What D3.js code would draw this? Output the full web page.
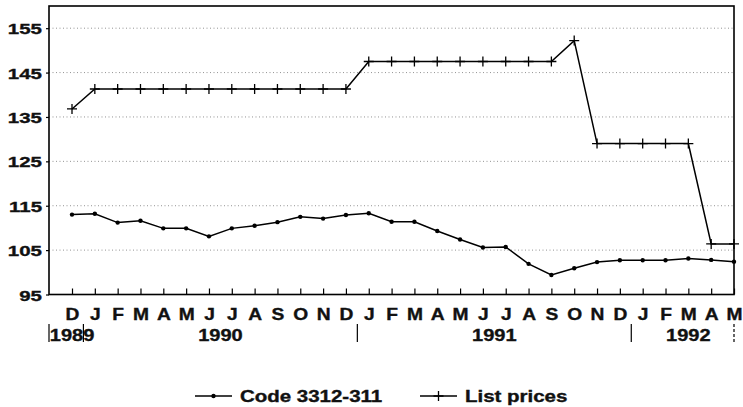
<!DOCTYPE html>
<html><head><meta charset="utf-8">
<script src="https://cdn.jsdelivr.net/npm/d3@7"></script>
<style>
body{margin:0;background:#fff}
svg{display:block}
text{font-family:"Liberation Sans",Arial,Helvetica,sans-serif;font-weight:bold;fill:#111;stroke:#111;stroke-width:0.35px}
</style></head>
<body><svg id="c" width="743" height="407"></svg>
<script>
// ---- data ----
const months = ["D","J","F","M","A","M","J","J","A","S","O","N","D","J","F","M","A","M","J","J","A","S","O","N","D","J","F","M","A","M"];
const codeSeries = [113.0,113.2,111.2,111.6,109.9,109.9,108.1,109.9,110.5,111.3,112.5,112.1,112.9,113.3,111.4,111.4,109.3,107.4,105.6,105.7,101.9,99.4,100.9,102.3,102.7,102.7,102.7,103.1,102.8,102.4];
const listPrices = [136.8,141.3,141.3,141.3,141.3,141.3,141.3,141.3,141.3,141.3,141.3,141.3,141.3,147.5,147.5,147.5,147.5,147.5,147.5,147.5,147.5,147.5,152.2,129.0,129.0,129.0,129.0,129.0,106.4,106.4];
const yTicks = [95,105,115,125,135,145,155];
const yearLabels = ["1989","1990","1991","1992"];
const yearStart = [0,1,13,25];
const yearEnd = [0,12,24,29];
const seriesNames = ["Code 3312-311","List prices"];

// ---- layout ----
const svg = d3.select("#c");
const L = 49, R = 734, T = 6, B = 294.5;
const x = d3.scalePoint().domain(d3.range(months.length)).range([72, 734]);
const y = d3.scaleLinear().domain([95, 160]).range([B, T]);
const SX = "scale(1.25,1)";

// gridlines
svg.append("g").selectAll("line").data(yTicks.filter(v => v > 95)).join("line")
  .attr("x1", L).attr("x2", R).attr("y1", d => y(d)).attr("y2", d => y(d))
  .attr("stroke", "#777").attr("stroke-width", 0.8).attr("stroke-dasharray", "1,2.5");

// y axis
const ya = svg.append("g").attr("transform", `translate(${L},0)`)
  .call(d3.axisLeft(y).tickValues(yTicks).tickSize(3).tickFormat(d3.format("d")));
ya.select(".domain").remove();
ya.selectAll(".tick line").attr("stroke", "#000").attr("stroke-width", 1.2);
ya.selectAll("text").attr("x", null).attr("dy", "0.36em")
  .attr("transform", "translate(-7,0) scale(1.32,1)")
  .style("font-size", "15.5px").style("text-anchor", "end");

// x axis
const xa = svg.append("g").attr("transform", `translate(0,${B})`)
  .call(d3.axisBottom(x).tickSize(-6).tickPadding(14).tickFormat(i => months[i]));
xa.select(".domain").remove();
xa.selectAll(".tick line").attr("stroke", "#000").attr("stroke-width", 1.2);
xa.selectAll("text").attr("transform", "scale(1.2,1)").style("font-size", "16px");

// frame
svg.append("rect").attr("x", L).attr("y", T).attr("width", R - L).attr("height", B - T)
  .attr("fill", "none").attr("stroke", "#000").attr("stroke-width", 1.6);

// series
const line = d3.line().x((d, i) => x(i)).y(d => y(d));
svg.append("path").datum(codeSeries).attr("d", line)
  .attr("fill", "none").attr("stroke", "#000").attr("stroke-width", 1.5);
svg.append("g").selectAll("circle").data(codeSeries).join("circle")
  .attr("cx", (d, i) => x(i)).attr("cy", d => y(d)).attr("r", 2.2).attr("fill", "#000");

svg.append("path").datum(listPrices).attr("d", line)
  .attr("fill", "none").attr("stroke", "#000").attr("stroke-width", 1.5);
const plus = "M-5,0H5M0,-5V5";
svg.append("g").selectAll("path").data(listPrices).join("path")
  .attr("transform", (d, i) => `translate(${x(i)},${y(d)})`)
  .attr("d", plus).attr("stroke", "#000").attr("stroke-width", 1.3).attr("fill", "none");

// year labels
svg.append("g").selectAll("text").data(yearLabels).join("text")
  .attr("transform", (d, i) => `translate(${(x(yearStart[i]) + x(yearEnd[i])) / 2},341) ${SX}`)
  .attr("text-anchor", "middle").style("font-size", "16px").text(d => d);

// year separators
const seps = [L].concat([0, 12, 24].map(i => (x(i) + x(i + 1)) / 2));
svg.append("g").selectAll("line").data(seps).join("line")
  .attr("x1", d => d).attr("x2", d => d).attr("y1", 324).attr("y2", 342)
  .attr("stroke", "#000").attr("stroke-width", 1.2);
svg.append("line").attr("x1", x(months.length - 1)).attr("x2", x(months.length - 1))
  .attr("y1", 324).attr("y2", 342).attr("stroke", "#000").attr("stroke-width", 1.2)
  .attr("stroke-dasharray", "3,2");

// legend
const lg = svg.append("g");
const ly = 396;
const legX = [195, 420];
const legW = 37;
seriesNames.forEach((name, k) => {
  const x0 = legX[k];
  lg.append("line").attr("x1", x0).attr("x2", x0 + legW).attr("y1", ly).attr("y2", ly)
    .attr("stroke", "#000").attr("stroke-width", 1.5);
  if (k === 0) {
    lg.append("circle").attr("cx", x0 + legW / 2).attr("cy", ly).attr("r", 2.2).attr("fill", "#000");
  } else {
    lg.append("path").attr("transform", `translate(${x0 + legW / 2},${ly})`).attr("d", plus)
      .attr("stroke", "#000").attr("stroke-width", 1.3);
  }
  lg.append("text").attr("transform", `translate(${x0 + legW + 8},${ly + 6}) scale(1.28,1)`)
    .style("font-size", "16px").text(name);
});
</script>
</body></html>
